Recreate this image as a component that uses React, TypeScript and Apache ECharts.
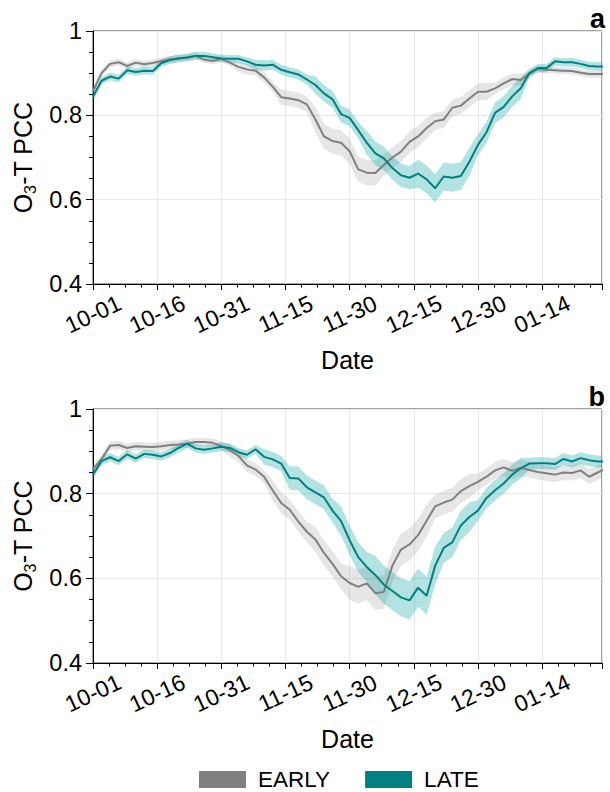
import { useEffect, useRef } from "react";
import * as echarts from "echarts";

// day offsets from 10-01, sampled every 2 days
const days = Array.from({ length: 61 }, (_, i) => i * 2);

const xTickLabels = ["10-01", "10-16", "10-31", "11-15", "11-30", "12-15", "12-30", "01-14"];
const yTickLabels = ["0.4", "0.6", "0.8", "1"];
const legendNames = ["EARLY", "LATE"];

// panel a
const earlyA = [
  0.857, 0.9, 0.922, 0.926, 0.917, 0.925, 0.921, 0.924, 0.929, 0.933,
  0.935, 0.937, 0.941, 0.932, 0.929, 0.934, 0.925, 0.915, 0.909, 0.906,
  0.89, 0.868, 0.843, 0.84, 0.836, 0.826, 0.79, 0.75, 0.739, 0.735,
  0.715, 0.672, 0.664, 0.663, 0.682, 0.7, 0.714, 0.737, 0.75, 0.77,
  0.786, 0.79, 0.818, 0.823, 0.84, 0.856, 0.856, 0.864, 0.876, 0.886,
  0.884, 0.898, 0.91, 0.908, 0.907, 0.906, 0.905, 0.901, 0.898, 0.898,
  0.898,
];
const lateA = [
  0.844, 0.882, 0.892, 0.887, 0.907, 0.903, 0.906, 0.905, 0.924, 0.931,
  0.935, 0.937, 0.941, 0.941, 0.938, 0.935, 0.934, 0.934, 0.928, 0.92,
  0.918, 0.92, 0.908, 0.902, 0.897, 0.885, 0.872, 0.852, 0.838, 0.803,
  0.794, 0.765, 0.735, 0.71, 0.698, 0.675, 0.658, 0.652, 0.662, 0.648,
  0.627, 0.655, 0.652, 0.656, 0.69, 0.73, 0.76, 0.806, 0.82, 0.845,
  0.864, 0.9, 0.912, 0.912, 0.928, 0.926, 0.926, 0.922, 0.917, 0.916,
  0.916,
];
const earlyASpread = [
  0.008, 0.008, 0.008, 0.008, 0.008, 0.008, 0.008, 0.008, 0.008, 0.008,
  0.008, 0.008, 0.008, 0.008, 0.008, 0.008, 0.008, 0.012, 0.012, 0.012,
  0.012, 0.012, 0.018, 0.018, 0.018, 0.018, 0.03, 0.03, 0.03, 0.03,
  0.03, 0.03, 0.03, 0.03, 0.025, 0.025, 0.025, 0.025, 0.025, 0.025,
  0.02, 0.02, 0.02, 0.02, 0.02, 0.02, 0.02, 0.014, 0.014, 0.014,
  0.014, 0.008, 0.008, 0.008, 0.008, 0.008, 0.008, 0.008, 0.008, 0.008,
  0.008,
];
const lateASpread = [
  0.009, 0.009, 0.009, 0.009, 0.009, 0.009, 0.009, 0.009, 0.009, 0.009,
  0.009, 0.009, 0.009, 0.009, 0.009, 0.009, 0.009, 0.009, 0.009, 0.012,
  0.012, 0.012, 0.012, 0.012, 0.012, 0.012, 0.02, 0.02, 0.02, 0.02,
  0.02, 0.02, 0.028, 0.028, 0.028, 0.028, 0.028, 0.028, 0.033, 0.033,
  0.033, 0.033, 0.033, 0.033, 0.033, 0.025, 0.025, 0.025, 0.025, 0.025,
  0.025, 0.01, 0.01, 0.01, 0.01, 0.01, 0.01, 0.01, 0.01, 0.01,
  0.01,
];

// panel b
const earlyB = [
  0.858, 0.882, 0.913, 0.915, 0.908, 0.912, 0.911, 0.91, 0.912, 0.915,
  0.916, 0.918, 0.922, 0.922, 0.92, 0.913, 0.903, 0.889, 0.867, 0.857,
  0.84, 0.808, 0.778, 0.762, 0.734, 0.71, 0.692, 0.66, 0.634, 0.605,
  0.589, 0.58, 0.588, 0.565, 0.568, 0.63, 0.668, 0.68, 0.702, 0.736,
  0.77, 0.779, 0.786, 0.806, 0.818, 0.828, 0.84, 0.855, 0.862, 0.854,
  0.861, 0.856, 0.851, 0.848, 0.845, 0.85, 0.849, 0.855, 0.84, 0.85,
  0.86,
];
const lateB = [
  0.845, 0.877, 0.886, 0.877, 0.893, 0.883, 0.894, 0.892, 0.888, 0.896,
  0.908, 0.918, 0.907, 0.904, 0.907, 0.911, 0.908, 0.898, 0.892, 0.905,
  0.887, 0.881, 0.871, 0.837, 0.836, 0.815, 0.803, 0.791, 0.76, 0.735,
  0.69, 0.65, 0.627, 0.608, 0.585, 0.57, 0.555, 0.548, 0.578, 0.559,
  0.63, 0.672, 0.685, 0.725, 0.745, 0.76, 0.79, 0.808, 0.824, 0.845,
  0.86, 0.871, 0.872, 0.872, 0.87, 0.882, 0.876, 0.884, 0.879, 0.876,
  0.876,
];
const earlyBSpread = [
  0.01, 0.01, 0.01, 0.01, 0.01, 0.01, 0.01, 0.01, 0.01, 0.01,
  0.01, 0.01, 0.01, 0.01, 0.01, 0.01, 0.015, 0.015, 0.015, 0.015,
  0.015, 0.024, 0.024, 0.024, 0.024, 0.024, 0.03, 0.03, 0.03, 0.03,
  0.04, 0.04, 0.04, 0.04, 0.04, 0.038, 0.038, 0.038, 0.038, 0.038,
  0.028, 0.028, 0.028, 0.028, 0.028, 0.02, 0.02, 0.02, 0.02, 0.02,
  0.02, 0.018, 0.018, 0.018, 0.018, 0.018, 0.018, 0.018, 0.018, 0.018,
  0.018,
];
const lateBSpread = [
  0.01, 0.01, 0.01, 0.01, 0.01, 0.01, 0.01, 0.01, 0.01, 0.01,
  0.01, 0.01, 0.01, 0.01, 0.01, 0.01, 0.01, 0.01, 0.01, 0.01,
  0.018, 0.018, 0.018, 0.028, 0.028, 0.028, 0.028, 0.028, 0.028, 0.035,
  0.035, 0.035, 0.035, 0.045, 0.045, 0.045, 0.045, 0.045, 0.045, 0.045,
  0.045, 0.035, 0.035, 0.035, 0.035, 0.024, 0.024, 0.024, 0.024, 0.024,
  0.024, 0.014, 0.014, 0.014, 0.014, 0.014, 0.014, 0.014, 0.014, 0.014,
  0.014,
];

const FONT = "Liberation Sans";
const GRAY = "#808080";
const TEAL = "#008080";

function band(idx: number, mean: number[], spread: number[], fill: string) {
  const rows = days.map((d, i) => [d, mean[i] - spread[i], mean[i] + spread[i]]);
  return {
    type: "custom",
    xAxisIndex: idx,
    yAxisIndex: idx,
    silent: true,
    clip: true,
    z: 1,
    data: rows,
    encode: { x: 0, y: [1, 2] },
    renderItem: (params: any, api: any) => {
      if (params.dataIndex !== 0) return null;
      const upper = rows.map((r) => api.coord([r[0], r[2]]));
      const lower = rows.map((r) => api.coord([r[0], r[1]])).reverse();
      return {
        type: "polygon",
        shape: { points: upper.concat(lower) },
        style: { fill },
      };
    },
  };
}

function line(idx: number, name: string, vals: number[], color: string) {
  return {
    type: "line",
    name,
    xAxisIndex: idx,
    yAxisIndex: idx,
    data: days.map((d, i) => [d, vals[i]]),
    symbol: "none",
    clip: true,
    z: 3,
    lineStyle: { color, width: 2 },
    itemStyle: { color },
  };
}

function xAxis(idx: number) {
  return {
    type: "value",
    gridIndex: idx,
    min: 0,
    max: 119,
    interval: 15,
    axisLine: { show: true, onZero: false, lineStyle: { color: "#000", width: 1 } },
    axisTick: { show: true, length: 6, lineStyle: { color: "#000" } },
    minorTick: { show: true, splitNumber: 4, length: 3.5, lineStyle: { color: "#000" } },
    splitLine: { show: true, lineStyle: { color: "#e8e8e8" } },
    axisLabel: {
      rotate: 25,
      align: "center",
      verticalAlign: "middle",
      margin: 30,
      fontSize: 23,
      color: "#000",
      fontFamily: FONT,
      formatter: (v: number) => (v % 15 === 0 ? xTickLabels[v / 15] ?? "" : ""),
    },
    name: "Date",
    nameLocation: "middle",
    nameGap: 63,
    nameTextStyle: { fontSize: 25, color: "#000", fontFamily: FONT },
  };
}

function yAxis(idx: number) {
  return {
    type: "value",
    gridIndex: idx,
    min: 0.4,
    max: 1,
    interval: 0.2,
    axisLine: { show: true, onZero: false, lineStyle: { color: "#000", width: 1 } },
    axisTick: { show: true, length: 7, lineStyle: { color: "#000" } },
    minorTick: { show: true, splitNumber: 4, length: 4, lineStyle: { color: "#000" } },
    splitLine: { show: true, lineStyle: { color: "#e8e8e8" } },
    axisLabel: {
      margin: 11,
      fontSize: 23.5,
      color: "#000",
      fontFamily: FONT,
      formatter: (v: number) => yTickLabels[Math.round((v - 0.4) / 0.2)] ?? "",
    },
    name: "{m|O}{s|3}{m|-T PCC}",
    nameLocation: "middle",
    nameGap: 57,
    nameTextStyle: {
      color: "#000",
      fontFamily: FONT,
      rich: {
        m: { fontSize: 25, lineHeight: 25, fontFamily: FONT, color: "#000", verticalAlign: "top" },
        s: {
          fontSize: 16,
          lineHeight: 16,
          fontFamily: FONT,
          color: "#000",
          verticalAlign: "top",
          padding: [12, 0, 0, 0],
        },
      },
    },
  };
}

export default function App() {
  const chartRef = useRef<HTMLDivElement>(null);

  useEffect(() => {
    if (!chartRef.current) return;
    document.body.style.margin = "0";
    const chart = echarts.init(chartRef.current, undefined, { renderer: "svg" });

    chart.setOption({
      animation: false,
      backgroundColor: "#fff",
      textStyle: { fontFamily: FONT },
      grid: [
        { left: 93, top: 31, width: 509, height: 253, show: true, borderColor: "#444", borderWidth: 1 },
        { left: 93, top: 409, width: 509, height: 254, show: true, borderColor: "#444", borderWidth: 1 },
      ],
      xAxis: [xAxis(0), xAxis(1)],
      yAxis: [yAxis(0), yAxis(1)],
      legend: {
        data: legendNames,
        left: 194,
        top: 763,
        icon: "rect",
        itemWidth: 47,
        itemHeight: 17,
        itemGap: 35,
        selectedMode: false,
        textStyle: { fontSize: 22.5, color: "#000", fontFamily: FONT, padding: [0, 0, 0, 7] },
      },
      graphic: [
        { type: "text", right: 5, top: 5, style: { text: "a", font: `bold 27px "${FONT}"`, fill: "#000" } },
        { type: "text", right: 5, top: 383, style: { text: "b", font: `bold 27px "${FONT}"`, fill: "#000" } },
      ],
      series: [
        band(0, earlyA, earlyASpread, "rgba(128,128,128,0.2)"),
        band(0, lateA, lateASpread, "rgba(0,160,160,0.3)"),
        line(0, "EARLY", earlyA, GRAY),
        line(0, "LATE", lateA, TEAL),
        band(1, earlyB, earlyBSpread, "rgba(128,128,128,0.2)"),
        band(1, lateB, lateBSpread, "rgba(0,160,160,0.3)"),
        line(1, "EARLY", earlyB, GRAY),
        line(1, "LATE", lateB, TEAL),
      ],
    });

    return () => {
      chart.dispose();
    };
  }, []);

  return <div ref={chartRef} style={{ width: "610px", height: "792px" }} />;
}
